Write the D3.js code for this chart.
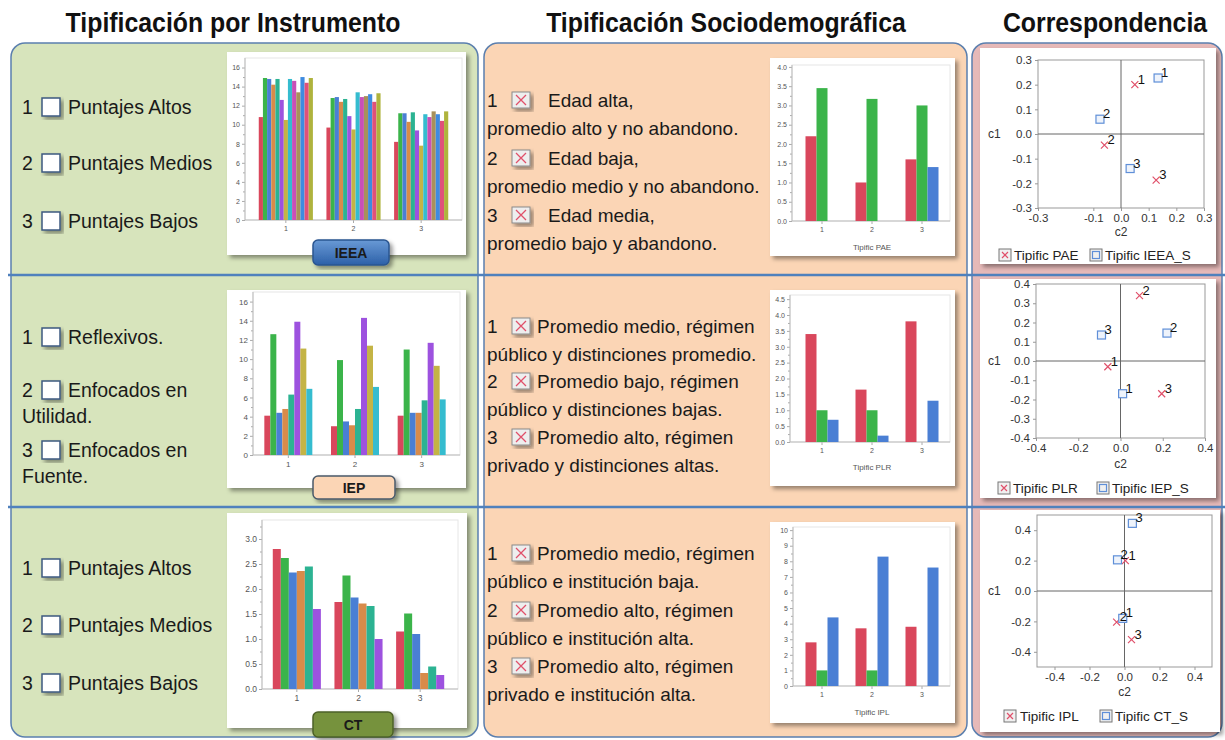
<!DOCTYPE html>
<html>
<head>
<meta charset="utf-8">
<script src="https://cdn.jsdelivr.net/npm/d3@7"></script>
<style>
  body { margin: 0; background: #fff; }
  svg text { font-family: "Liberation Sans", Arial, sans-serif; }
</style>
</head>
<body>
<div id="vis"></div>
<script>
// ---- data ----
var groups = ["1", "2", "3"];

var ieeaValues = [
    [10.8, 14.9, 14.8, 14.2, 14.8, 12.6, 10.5, 14.8, 14.6, 13.4, 15.0, 14.4, 14.9],
    [9.7, 12.8, 12.9, 12.4, 12.7, 10.9, 9.5, 13.4, 12.9, 13.0, 13.2, 12.4, 13.3],
    [8.2, 11.2, 11.2, 10.3, 11.3, 9.4, 7.8, 11.1, 10.8, 11.4, 11.1, 10.4, 11.4]
];
var iepValues = [
    [4.1, 12.6, 4.4, 4.8, 6.3, 13.9, 11.1, 6.9],
    [3.0, 9.9, 3.5, 3.1, 4.8, 14.3, 11.4, 7.1],
    [4.1, 11.0, 4.4, 4.4, 5.7, 11.7, 9.3, 5.8]
];
var ctValues = [
    [2.80, 2.62, 2.33, 2.36, 2.45, 1.60],
    [1.74, 2.27, 1.83, 1.71, 1.66, 1.00],
    [1.15, 1.51, 1.10, 0.32, 0.45, 0.28]
];
var paeValues = [[2.2, 3.45, 0], [1.0, 3.17, 0], [1.6, 3.0, 1.4]];
var plrValues = [[3.4, 1.0, 0.7], [1.65, 1.0, 0.2], [3.8, 0, 1.3]];
var iplValues = [[2.8, 1.0, 4.4], [3.7, 1.0, 8.3], [3.8, 0, 7.6]];

var ieeaTicks = [0, 2, 4, 6, 8, 10, 12, 14, 16];
var iepTicks = [0, 2, 4, 6, 8, 10, 12, 14, 16];
var ctTicks = [0, 0.5, 1.0, 1.5, 2.0, 2.5, 3.0];
var paeTicks = [0, 0.5, 1.0, 1.5, 2.0, 2.5, 3.0, 3.5, 4.0];
var plrTicks = [0, 0.5, 1.0, 1.5, 2.0, 2.5, 3.0, 3.5, 4.0, 4.5];
var iplTicks = [0, 1, 2, 3, 4, 5, 6, 7, 8, 9, 10];

// correspondence coordinates [c2, c1]
var paePts = [[0.05, 0.20], [-0.06, -0.045], [0.127, -0.187]];
var ieeaSPts = [[0.134, 0.227], [-0.076, 0.06], [0.033, -0.14]];
var plrPts = [[-0.06, -0.03], [0.09, 0.34], [0.195, -0.17]];
var iepSPts = [[0.01, -0.17], [0.22, 0.145], [-0.09, 0.135]];
var iplPts = [[0.005, 0.20], [-0.045, -0.205], [0.04, -0.32]];
var ctSPts = [[-0.01, -0.18], [-0.04, 0.205], [0.045, 0.445]];

var corr1XTicks = [-0.3, -0.1, 0, 0.1, 0.2, 0.3];
var corr1YTicks = [-0.3, -0.2, -0.1, 0, 0.1, 0.2, 0.3];
var corr2XTicks = [-0.4, -0.2, 0, 0.2, 0.4];
var corr2YTicks = [-0.4, -0.3, -0.2, -0.1, 0, 0.1, 0.2, 0.3, 0.4];
var corr3XTicks = [-0.4, -0.2, 0, 0.2, 0.4];
var corr3YTicks = [-0.4, -0.2, 0, 0.2, 0.4];

var headers = ["Tipificación por Instrumento", "Tipificación Sociodemográfica", "Correspondencia"];
var ieeaTypes = [["Puntajes Altos"], ["Puntajes Medios"], ["Puntajes Bajos"]];
var iepTypes = [["Reflexivos."], ["Enfocados en", "Utilidad."], ["Enfocados en", "Fuente."]];
var ctTypes = [["Puntajes Altos"], ["Puntajes Medios"], ["Puntajes Bajos"]];
var paeTypes = [["Edad alta,", "promedio alto y no abandono."],
                ["Edad baja,", "promedio medio y no abandono."],
                ["Edad media,", "promedio bajo y abandono."]];
var plrTypes = [["Promedio medio, régimen", "público y distinciones promedio."],
                ["Promedio bajo, régimen", "público y distinciones bajas."],
                ["Promedio alto, régimen", "privado y distinciones altas."]];
var iplTypes = [["Promedio medio, régimen", "público e institución baja."],
                ["Promedio alto, régimen", "público e institución alta."],
                ["Promedio alto, régimen", "privado e institución alta."]];

var palette = ["#d9475c", "#3bb44a", "#4a7fd4", "#d88b4a", "#2cb392", "#9d52df", "#c4b445",
               "#35bccf", "#c94fb7", "#a8915a", "#3e8be0", "#e0507a", "#afb33d"];

// ---- canvas ----
var svg = d3.select("#vis").append("svg")
    .attr("width", 1225)
    .attr("height", 740);

var defs = svg.append("defs");
defs.append("filter").attr("id", "shadow")
    .attr("x", "-10%").attr("y", "-10%").attr("width", "130%").attr("height", "130%")
    .append("feDropShadow")
    .attr("dx", 3).attr("dy", 3).attr("stdDeviation", 2)
    .attr("flood-color", "#000").attr("flood-opacity", 0.4);
var grad = defs.append("linearGradient").attr("id", "blueBadge")
    .attr("x1", 0).attr("y1", 0).attr("x2", 0).attr("y2", 1);
grad.append("stop").attr("offset", "0%").attr("stop-color", "#6a9ad6");
grad.append("stop").attr("offset", "100%").attr("stop-color", "#2c60a8");

// panels
[[11, "#d7e4bc", 467], [484, "#fbd5b5", 483], [972, "#e6b9b8", 250]].forEach(function (p) {
    svg.append("rect")
        .attr("x", p[0]).attr("y", 43)
        .attr("width", p[2]).attr("height", 694)
        .attr("rx", 14)
        .attr("fill", p[1])
        .attr("stroke", "#5b7fae")
        .attr("stroke-width", 1.5);
});

[275, 507].forEach(function (yy) {
    svg.append("line")
        .attr("x1", 8).attr("x2", 1225)
        .attr("y1", yy).attr("y2", yy)
        .attr("stroke", "#4f81bd")
        .attr("stroke-width", 2.5);
});

// headers
[233, 726, 1105].forEach(function (cx, i) {
    svg.append("text")
        .attr("transform", "translate(" + cx + ",32) scale(0.92,1)")
        .attr("text-anchor", "middle")
        .style("font-size", "27px")
        .style("font-weight", "bold")
        .attr("fill", "#111")
        .text(headers[i]);
});

// ---- left panel text ----
function leftItems(types, ys, contYs) {
    types.forEach(function (lines, i) {
        var y = ys[i];
        svg.append("text").attr("x", 22).attr("y", y + 7)
            .style("font-size", "19.5px").attr("fill", "#1a1a1a").text(i + 1);
        svg.append("rect")
            .attr("x", 42).attr("y", y - 9).attr("width", 18).attr("height", 18)
            .attr("fill", "#fff").attr("stroke", "#3d5a80").attr("stroke-width", 1.5)
            .attr("filter", "url(#shadow)");
        svg.append("text").attr("x", 68).attr("y", y + 7)
            .style("font-size", "19.5px").attr("fill", "#1a1a1a").text(lines[0]);
        if (lines[1]) {
            svg.append("text").attr("x", 22).attr("y", contYs[i] + 7)
                .style("font-size", "19.5px").attr("fill", "#1a1a1a").text(lines[1]);
        }
    });
}
leftItems(ieeaTypes, [107, 163, 221], []);
leftItems(iepTypes, [337, 390, 450], [0, 416, 476]);
leftItems(ctTypes, [568, 625, 683], []);

// ---- middle panel text ----
function midItems(types, ys, labelX) {
    types.forEach(function (lines, i) {
        var y = ys[i];
        svg.append("text").attr("x", 487).attr("y", y + 7)
            .style("font-size", "19px").attr("fill", "#1a1a1a").text(i + 1);
        svg.append("rect")
            .attr("x", 512).attr("y", y - 8).attr("width", 18).attr("height", 16)
            .attr("fill", "#eeeeee").attr("stroke", "#8a8a8a").attr("stroke-width", 1)
            .attr("filter", "url(#shadow)");
        svg.append("path")
            .attr("d", "M516," + (y - 5) + "L526," + (y + 5) + "M526," + (y - 5) + "L516," + (y + 5))
            .attr("stroke", "#e0506a").attr("stroke-width", 1.3);
        svg.append("text").attr("x", labelX).attr("y", y + 7)
            .style("font-size", "19px").attr("fill", "#1a1a1a").text(lines[0]);
        svg.append("text").attr("x", 487).attr("y", y + 35)
            .style("font-size", "19px").attr("fill", "#1a1a1a").text(lines[1]);
    });
}
midItems(paeTypes, [100, 158, 215], 548);
midItems(plrTypes, [326, 381, 437], 537);
midItems(iplTypes, [553, 610, 666], 537);

// ---- bar charts ----
function barChart(o) {
    var p = o.plot;
    svg.append("rect")
        .attr("x", o.card[0]).attr("y", o.card[1])
        .attr("width", o.card[2]).attr("height", o.card[3])
        .attr("fill", "#fff").attr("filter", "url(#shadow)");
    svg.append("rect")
        .attr("x", p.l).attr("y", p.t)
        .attr("width", p.r - p.l).attr("height", p.b - p.t)
        .attr("fill", "#fff").attr("stroke", "#e6e6e6");

    var x = d3.scaleBand().domain(groups).range(o.xRange);
    var w = x.bandwidth() * o.fill;
    var inner = d3.scaleBand().domain(d3.range(o.values[0].length)).range([-w / 2, w / 2]);
    var y = d3.scaleLinear().domain([0, o.yMax]).range([p.b, p.t]);

    var gm = svg.append("g").attr("transform", "translate(" + p.l + ",0)")
        .call(d3.axisLeft(y).tickValues(o.minor).tickSize(2).tickFormat(""));
    var gy = svg.append("g").attr("transform", "translate(" + p.l + ",0)")
        .call(d3.axisLeft(y).tickValues(o.ticks).tickSize(3).tickPadding(2).tickFormat(o.fmt));
    var gx = svg.append("g").attr("transform", "translate(0," + p.b + ")")
        .call(d3.axisBottom(x).tickSize(3).tickSizeOuter(0).tickPadding(3));
    [gm, gy, gx].forEach(function (g) {
        g.select(".domain").remove();
        g.selectAll("line").attr("stroke", "#aaa");
        g.selectAll("text").attr("fill", "#555").style("font-size", o.fs + "px");
    });
    svg.append("path")
        .attr("d", "M" + p.l + "," + p.t + "V" + p.b + "H" + p.r)
        .attr("fill", "none").attr("stroke", "#bbb");

    svg.append("g").selectAll("g")
        .data(o.values)
        .join("g")
        .attr("transform", (d, i) => "translate(" + (x(groups[i]) + x.bandwidth() / 2) + ",0)")
        .selectAll("rect")
        .data(d => d)
        .join("rect")
        .attr("x", (d, j) => inner(j))
        .attr("width", inner.bandwidth())
        .attr("y", d => y(d))
        .attr("height", d => p.b - y(d))
        .attr("fill", (d, j) => o.colors[j]);

    if (o.title) {
        svg.append("text")
            .attr("x", (o.xRange[0] + o.xRange[1]) / 2).attr("y", o.titleY)
            .attr("text-anchor", "middle")
            .style("font-size", "8px").attr("fill", "#555")
            .text(o.title);
    }
}

function badge(x, y, w, h, fill, stroke, label) {
    svg.append("rect")
        .attr("x", x).attr("y", y).attr("width", w).attr("height", h)
        .attr("rx", 5)
        .attr("fill", fill).attr("stroke", stroke).attr("stroke-width", 1.5)
        .attr("filter", "url(#shadow)");
    svg.append("text")
        .attr("x", x + w / 2).attr("y", y + h / 2 + 5)
        .attr("text-anchor", "middle")
        .style("font-size", "14px").style("font-weight", "bold")
        .attr("fill", "#1a1a1a")
        .text(label);
}

var fmt1 = d => d.toFixed(1);
var fmt0 = d => d.toFixed(0);

barChart({ values: ieeaValues, colors: palette, card: [227, 52, 239, 203],
    plot: { l: 245, r: 462, t: 58, b: 220 }, xRange: [252, 455], fill: 0.8,
    yMax: 17, ticks: ieeaTicks, minor: d3.range(1, 17, 2), fmt: fmt0, fs: 7 });
badge(313, 240, 76, 25, "url(#blueBadge)", "#2a5590", "IEEA");

barChart({ values: iepValues, colors: palette, card: [227, 290, 239, 198],
    plot: { l: 253, r: 460, t: 292, b: 455 }, xRange: [255, 455], fill: 0.72,
    yMax: 17, ticks: iepTicks, minor: d3.range(1, 17, 2), fmt: fmt0, fs: 8 });
badge(313, 476, 82, 23, "#fbd5b5", "#4a5a6a", "IEP");

barChart({ values: ctValues, colors: palette, card: [227, 513, 240, 215],
    plot: { l: 262, r: 458, t: 520, b: 689 }, xRange: [266, 451], fill: 0.78,
    yMax: 3.38, ticks: ctTicks, minor: d3.range(0.25, 3.3, 0.5), fmt: fmt1, fs: 8.5 });
badge(313, 712, 80, 25, "#76923c", "#4d6128", "CT");

barChart({ values: paeValues, colors: palette, card: [770, 58, 185, 198],
    plot: { l: 792, r: 950, t: 65, b: 221 }, xRange: [797, 947], fill: 0.66,
    yMax: 4.05, ticks: paeTicks, minor: d3.range(0.25, 4, 0.5), fmt: fmt1, fs: 7,
    title: "Tipific PAE", titleY: 250 });
barChart({ values: plrValues, colors: palette, card: [770, 290, 185, 196],
    plot: { l: 790, r: 950, t: 295, b: 442 }, xRange: [797, 947], fill: 0.66,
    yMax: 4.63, ticks: plrTicks, minor: d3.range(0.25, 4.5, 0.5), fmt: fmt1, fs: 7,
    title: "Tipific PLR", titleY: 470 });
barChart({ values: iplValues, colors: palette, card: [770, 522, 185, 201],
    plot: { l: 793, r: 950, t: 527, b: 686 }, xRange: [797, 947], fill: 0.66,
    yMax: 10.2, ticks: iplTicks, minor: d3.range(0.5, 10, 1), fmt: fmt0, fs: 7,
    title: "Tipific IPL", titleY: 715 });

// ---- correspondence plots ----
var redX = "#e0506a", blueSq = "#5f8fd8";

function drawX(g, cx, cy, r) {
    g.append("path")
        .attr("d", "M" + (cx - r) + "," + (cy - r) + "L" + (cx + r) + "," + (cy + r) +
                   "M" + (cx + r) + "," + (cy - r) + "L" + (cx - r) + "," + (cy + r))
        .attr("stroke", redX).attr("stroke-width", 1.2);
}

function corrChart(o) {
    var b = o.box;
    svg.append("rect")
        .attr("x", o.card[0]).attr("y", o.card[1])
        .attr("width", o.card[2]).attr("height", o.card[3])
        .attr("fill", "#fff").attr("filter", "url(#shadow)");

    var x = d3.scaleLinear().domain(o.dom).range([b.l, b.r]);
    var y = d3.scaleLinear().domain(o.dom).range([b.b, b.t]);

    svg.append("rect")
        .attr("x", b.l).attr("y", b.t).attr("width", b.r - b.l).attr("height", b.b - b.t)
        .attr("fill", "#fff").attr("stroke", "#999");
    svg.append("line").attr("x1", x(0)).attr("x2", x(0)).attr("y1", b.t).attr("y2", b.b)
        .attr("stroke", "#666");
    svg.append("line").attr("x1", b.l).attr("x2", b.r).attr("y1", y(0)).attr("y2", y(0))
        .attr("stroke", "#666");

    var gy = svg.append("g").attr("transform", "translate(" + b.l + ",0)")
        .call(d3.axisLeft(y).tickValues(o.yTicks).tickSize(3).tickPadding(3).tickFormat(fmt1));
    var gx = svg.append("g").attr("transform", "translate(0," + b.b + ")")
        .call(d3.axisBottom(x).tickValues(o.xTicks).tickSize(3).tickPadding(3).tickFormat(fmt1));
    [gx, gy].forEach(function (g) {
        g.select(".domain").remove();
        g.selectAll("line").attr("stroke", "#999");
        g.selectAll("text").attr("fill", "#333").style("font-size", "11.5px");
    });

    svg.append("text").attr("x", 988).attr("y", y(0) + 4)
        .style("font-size", "12px").attr("fill", "#333").text("c1");
    svg.append("text").attr("x", x(0)).attr("y", o.c2Y)
        .attr("text-anchor", "middle")
        .style("font-size", "12px").attr("fill", "#333").text("c2");

    var g = svg.append("g");
    o.red.forEach(function (d) { drawX(g, x(d[0]), y(d[1]), 3.5); });
    g.selectAll("rect.sq").data(o.blue).join("rect")
        .attr("class", "sq")
        .attr("x", d => x(d[0]) - 4).attr("y", d => y(d[1]) - 4)
        .attr("width", 8).attr("height", 8)
        .attr("fill", "#eef3fb").attr("stroke", blueSq).attr("stroke-width", 1.2);
    o.red.concat(o.blue).forEach(function (d, i) {
        g.append("text")
            .attr("x", x(d[0]) + 3).attr("y", y(d[1]) - 1)
            .style("font-size", "13px").attr("fill", "#111")
            .text(groups[i % 3]);
    });

    // legend
    var ly = o.legend.y;
    [0, 1].forEach(function (k) {
        var ix = o.legend.icons[k];
        svg.append("rect")
            .attr("x", ix - 6).attr("y", ly - 6).attr("width", 12).attr("height", 12)
            .attr("fill", "#f0f0f0").attr("stroke", "#777");
        if (k === 0) {
            drawX(svg, ix, ly, 3);
        } else {
            svg.append("rect").attr("x", ix - 3.5).attr("y", ly - 3.5)
                .attr("width", 7).attr("height", 7)
                .attr("fill", "none").attr("stroke", blueSq).attr("stroke-width", 1.2);
        }
        svg.append("text")
            .attr("x", o.legend.texts[k]).attr("y", ly + 5)
            .style("font-size", "13.5px").attr("fill", "#222")
            .text(o.names[k]);
    });
}

corrChart({ card: [980, 48, 236, 216], box: { l: 1038, r: 1204, t: 60, b: 208 },
    dom: [-0.3, 0.3], xTicks: corr1XTicks, yTicks: corr1YTicks, c2Y: 236,
    red: paePts, blue: ieeaSPts, names: ["Tipific PAE", "Tipific IEEA_S"],
    legend: { y: 255, icons: [1005, 1096], texts: [1014, 1105] } });
corrChart({ card: [980, 279, 236, 219], box: { l: 1036, r: 1205, t: 284, b: 438 },
    dom: [-0.4, 0.4], xTicks: corr2XTicks, yTicks: corr2YTicks, c2Y: 468,
    red: plrPts, blue: iepSPts, names: ["Tipific PLR", "Tipific IEP_S"],
    legend: { y: 488, icons: [1004, 1103], texts: [1013, 1112] } });
corrChart({ card: [980, 510, 240, 222], box: { l: 1037, r: 1212, t: 515, b: 667 },
    dom: [-0.5, 0.5], xTicks: corr3XTicks, yTicks: corr3YTicks, c2Y: 696,
    red: iplPts, blue: ctSPts, names: ["Tipific IPL", "Tipific CT_S"],
    legend: { y: 716, icons: [1010, 1106], texts: [1020, 1115] } });
</script>
</body>
</html>
